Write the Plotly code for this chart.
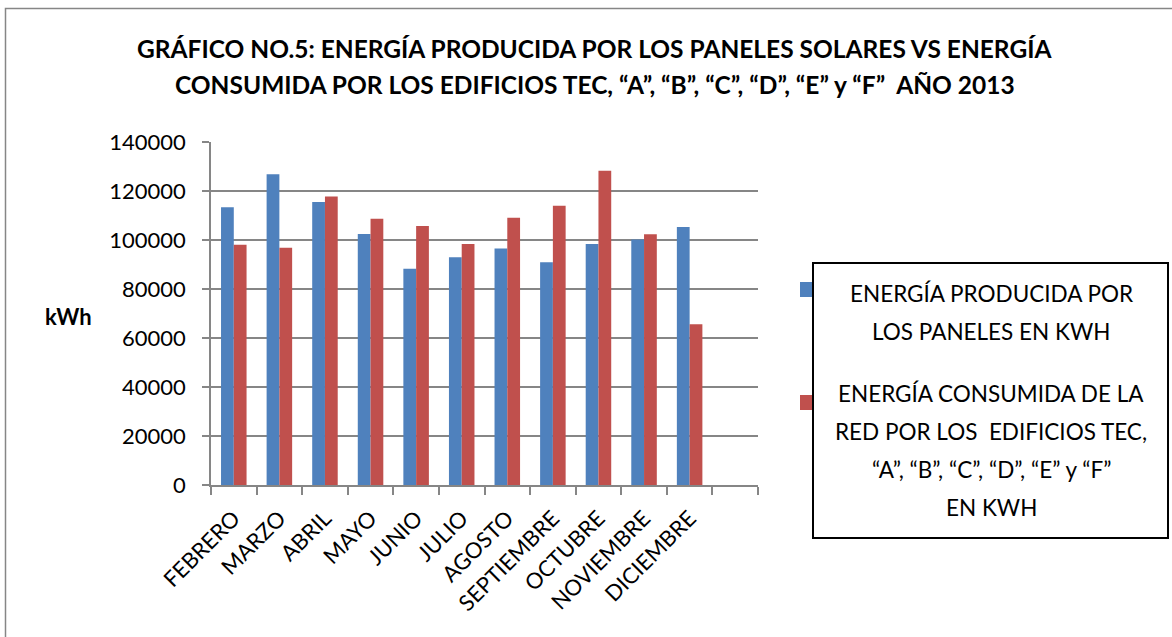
import plotly.graph_objects as go

meses = ["FEBRERO", "MARZO", "ABRIL", "MAYO", "JUNIO", "JULIO", "AGOSTO",
         "SEPTIEMBRE", "OCTUBRE", "NOVIEMBRE", "DICIEMBRE", " "]
produccion = [113400, 126800, 115500, 102400, 88300, 93000, 96500,
              90900, 98400, 100200, 105300, None]
consumo = [98100, 96800, 117800, 108700, 105700, 98400, 109100,
           114000, 128300, 102300, 65600, None]
serie_prod = "ENERGÍA PRODUCIDA POR LOS PANELES EN KWH"
serie_cons = "ENERGÍA CONSUMIDA DE LA RED POR LOS EDIFICIOS TEC, “A”, “B”, “C”, “D”, “E” y “F” EN KWH"
titulo_1 = "GRÁFICO NO.5: ENERGÍA PRODUCIDA POR LOS PANELES SOLARES VS ENERGÍA"
titulo_2 = "CONSUMIDA POR LOS EDIFICIOS TEC, “A”, “B”, “C”, “D”, “E” y “F”  AÑO 2013"
leyenda_1 = ["ENERGÍA PRODUCIDA POR", "LOS PANELES EN KWH"]
leyenda_2 = ["ENERGÍA CONSUMIDA DE LA", "RED POR LOS  EDIFICIOS TEC,",
             "“A”, “B”, “C”, “D”, “E” y “F”", "EN KWH"]
y_titulo = "kWh"

AZUL = "#4F81BD"
ROJO = "#C0504D"
GRIS = "#868686"
FONT = "Lato"

W, H = 1172, 637
L, R, T, B = 211, 758, 142, 485


def xp(px):
    return (px - L) / (R - L)


def yp(py):
    return (B - py) / (B - T)


fig = go.Figure()
fig.add_trace(go.Bar(x=meses, y=produccion, name=serie_prod,
                     marker=dict(color=AZUL, line=dict(width=0))))
fig.add_trace(go.Bar(x=meses, y=consumo, name=serie_cons,
                     marker=dict(color=ROJO, line=dict(width=0))))

annotations = []
# Title
for txt, cy in [(titulo_1, 49), (titulo_2, 85)]:
    annotations.append(dict(text="<b>" + txt + "</b>", x=xp(594.5), y=yp(cy),
                            xref="paper", yref="paper", showarrow=False,
                            xanchor="center", yanchor="middle",
                            font=dict(family=FONT, size=24.5, color="black")))
# y title
annotations.append(dict(text="<b>" + y_titulo + "</b>", x=xp(68), y=yp(316),
                        xref="paper", yref="paper", showarrow=False,
                        xanchor="center", yanchor="middle",
                        font=dict(family=FONT, size=22, color="black")))
# Legend text
for lines, ys in [(leyenda_1, [293, 331]), (leyenda_2, [393, 431, 469, 507])]:
    for t, cy in zip(lines, ys):
        annotations.append(dict(text=t, x=xp(991), y=yp(cy),
                                xref="paper", yref="paper", showarrow=False,
                                xanchor="center", yanchor="middle",
                                font=dict(family=FONT, size=22.5, color="black")))

shapes = [
    # outer frame
    dict(type="rect", xref="paper", yref="paper", x0=xp(5.5), x1=xp(1190),
         y0=yp(660), y1=yp(8.5), line=dict(color=GRIS, width=1.5), layer="below"),
    # legend markers
    dict(type="rect", xref="paper", yref="paper", x0=xp(800), x1=xp(815),
         y0=yp(297), y1=yp(282), fillcolor=AZUL, line=dict(width=0), layer="above"),
    dict(type="rect", xref="paper", yref="paper", x0=xp(800), x1=xp(815),
         y0=yp(410), y1=yp(395), fillcolor=ROJO, line=dict(width=0), layer="above"),
    # legend box
    dict(type="rect", xref="paper", yref="paper", x0=xp(813), x1=xp(1168),
         y0=yp(538), y1=yp(263), fillcolor="white",
         line=dict(color="black", width=2), layer="above"),
]

fig.update_layout(
    width=W, height=H,
    margin=dict(l=L, r=W - R, t=T, b=H - B, pad=0),
    paper_bgcolor="white", plot_bgcolor="white",
    barmode="group", bargap=0.44, bargroupgap=0,
    showlegend=False,
    font=dict(family=FONT, color="black"),
    annotations=annotations,
    shapes=shapes,
    xaxis=dict(type="category", categoryorder="array", categoryarray=meses,
               range=[-0.5, len(meses) - 0.5],
               tickson="boundaries", ticks="outside", ticklen=8, tickwidth=1.5,
               tickcolor=GRIS, showline=True, linecolor=GRIS, linewidth=1.5,
               showgrid=False, tickangle=-45, ticklabelstandoff=10,
               tickfont=dict(family=FONT, size=22, color="black")),
    yaxis=dict(range=[0, 140000], dtick=20000, tickformat="d",
               ticks="outside", ticklen=7, tickwidth=1.5, tickcolor=GRIS,
               showline=True, linecolor=GRIS, linewidth=1.5,
               showgrid=True, gridcolor=GRIS, gridwidth=1.5,
               zeroline=False, ticklabelstandoff=12,
               tickfont=dict(family=FONT, size=22, color="black")),
)

fig.write_html("out.html")
